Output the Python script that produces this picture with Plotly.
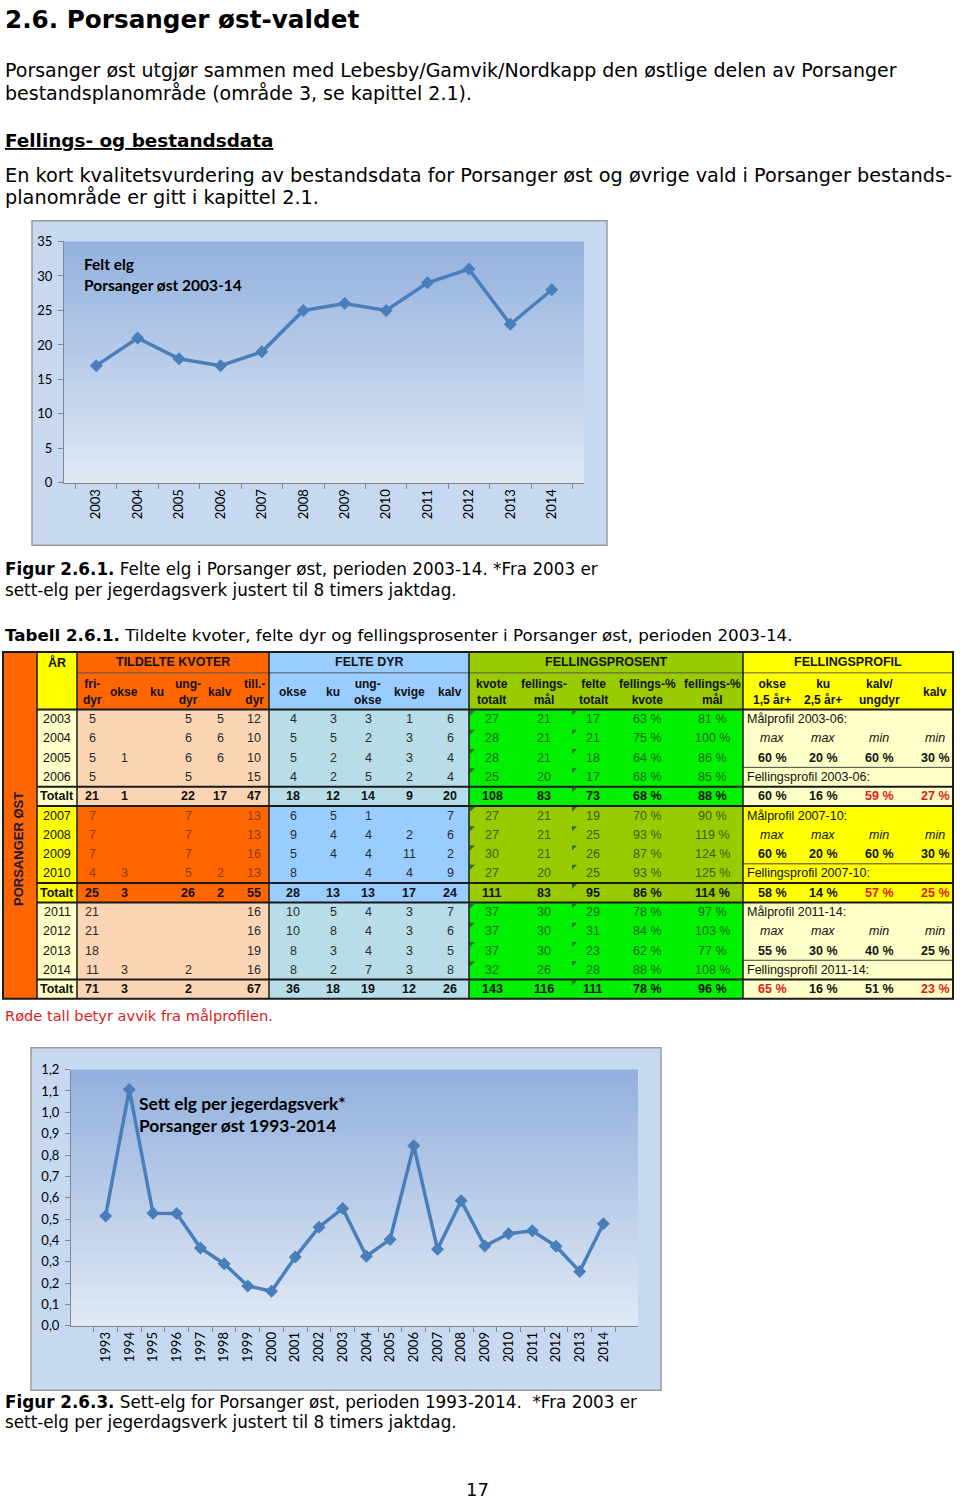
import plotly.graph_objects as go

W, H = 960, 1507

# ---- chart data ----
felt_years = ["2003", "2004", "2005", "2006", "2007", "2008", "2009", "2010", "2011", "2012", "2013", "2014"]
felt_elg = [17, 21, 18, 17, 19, 25, 26, 25, 29, 31, 23, 28]

sett_years = ["1993", "1994", "1995", "1996", "1997", "1998", "1999", "2000", "2001", "2002", "2003",
              "2004", "2005", "2006", "2007", "2008", "2009", "2010", "2011", "2012", "2013", "2014"]
sett_elg = [0.515, 1.107, 0.527, 0.526, 0.365, 0.291, 0.187, 0.162, 0.322, 0.462, 0.550,
            0.326, 0.405, 0.844, 0.359, 0.586, 0.374, 0.431, 0.445, 0.373, 0.255, 0.478]

# ---- table data ----
aar = ["2003", "2004", "2005", "2006", "Totalt", "2007", "2008", "2009", "2010", "Totalt",
       "2011", "2012", "2013", "2014", "Totalt"]
tild_fridyr = [5, 6, 5, 5, 21, 7, 7, 7, 4, 25, 21, 21, 18, 11, 71]
tild_okse = ["", "", 1, "", 1, "", "", "", 3, 3, "", "", "", 3, 3]
tild_ku = [""] * 15
tild_ungdyr = [5, 6, 6, 5, 22, 7, 7, 7, 5, 26, "", "", "", 2, 2]
tild_kalv = [5, 6, 6, "", 17, "", "", "", 2, 2, "", "", "", "", ""]
tild_tilldyr = [12, 10, 10, 15, 47, 13, 13, 16, 13, 55, 16, 16, 19, 16, 67]

felte_okse = [4, 5, 5, 4, 18, 6, 9, 5, 8, 28, 10, 10, 8, 8, 36]
felte_ku = [3, 5, 2, 2, 12, 5, 4, 4, "", 13, 5, 8, 3, 2, 18]
felte_ungokse = [3, 2, 4, 5, 14, 1, 4, 4, 4, 13, 4, 4, 4, 7, 19]
felte_kvige = [1, 3, 3, 2, 9, "", 2, 11, 4, 17, 3, 3, 3, 3, 12]
felte_kalv = [6, 6, 4, 4, 20, 7, 6, 2, 9, 24, 7, 6, 5, 8, 26]

kvote_totalt = [27, 28, 28, 25, 108, 27, 27, 30, 27, 111, 37, 37, 37, 32, 143]
fellingsmaal = [21, 21, 21, 20, 83, 21, 21, 21, 20, 83, 30, 30, 30, 26, 116]
felte_totalt = [17, 21, 18, 17, 73, 19, 25, 26, 25, 95, 29, 31, 23, 28, 111]
pct_kvote = ["63 %", "75 %", "64 %", "68 %", "68 %", "70 %", "93 %", "87 %", "93 %", "86 %",
             "78 %", "84 %", "62 %", "88 %", "78 %"]
pct_maal = ["81 %", "100 %", "86 %", "85 %", "88 %", "90 %", "119 %", "124 %", "125 %", "114 %",
            "97 %", "103 %", "77 %", "108 %", "96 %"]

profil_maal_label = ["Målprofil 2003-06:", "Målprofil 2007-10:", "Målprofil 2011-14:"]
profil_fell_label = ["Fellingsprofil 2003-06:", "Fellingsprofil 2007-10:", "Fellingsprofil 2011-14:"]
profil_grense = ["max", "max", "min", "min"]
maal_pct = [["60 %", "20 %", "60 %", "30 %"], ["60 %", "20 %", "60 %", "30 %"], ["55 %", "30 %", "40 %", "25 %"]]
fell_pct = [["60 %", "16 %", "59 %", "27 %"], ["58 %", "14 %", "57 %", "25 %"], ["65 %", "16 %", "51 %", "23 %"]]
avvik = [[False, False, True, True], [False, False, True, True], [True, False, False, True]]

BODY = "DejaVu Sans"
TAB = "Liberation Sans"
CHART = "Lato"
BLUE = "#4a7ebb"
RED = "#e01b1b"

shapes = []
annotations = []


def txt(x, y, s, size, family=BODY, color="black", anchor="left", **kw):
    annotations.append(dict(x=x, y=y, xref="x", yref="y", text=s, showarrow=False,
                            xanchor=anchor, yanchor="middle",
                            font=dict(family=family, size=size, color=color, **kw)))


def rect(x0, y0, x1, y1, fill, line=None, lw=0):
    shapes.append(dict(type="rect", xref="x", yref="y", x0=x0, y0=y0, x1=x1, y1=y1,
                       fillcolor=fill, line=dict(color=line or fill, width=lw), layer="below"))


def hline(x0, x1, y, color="#1a1a1a", w=1.5):
    shapes.append(dict(type="line", xref="x", yref="y", x0=x0, x1=x1, y0=y, y1=y,
                       line=dict(color=color, width=w), layer="below"))


def vline(x, y0, y1, color="#1a1a1a", w=1.5):
    shapes.append(dict(type="line", xref="x", yref="y", x0=x, x1=x, y0=y0, y1=y1,
                       line=dict(color=color, width=w), layer="below"))


def chart_box(x0, y0, x1, y1):
    # paper-referenced so it sits in the same lower layer as the gradients, underneath them
    shapes.append(dict(type="rect", xref="paper", yref="paper", x0=x0 / W, x1=x1 / W,
                       y0=1 - y1 / H, y1=1 - y0 / H, fillcolor="#c6d9f1",
                       line=dict(color="#9a9a9a", width=1.5), layer="below"))


def gradient(xa, ya, n=50, top=(0x93, 0xb1, 0xde), bot=(0xe0, 0xe8, 0xf4)):
    for i in range(n):
        t = i / (n - 1)
        c = tuple(round(bot[k] + (top[k] - bot[k]) * t) for k in range(3))
        shapes.append(dict(type="rect", xref=xa + " domain", yref=ya + " domain", x0=0, x1=1,
                           y0=i / n, y1=min(1, (i + 1) / n + 0.003),
                           fillcolor="rgb(%d,%d,%d)" % c, line=dict(width=0), layer="below"))


# ---- page text ----
txt(3, 12, "<b>2.6. Porsanger øst-valdet</b>", 24.7)
txt(3, 63, "Porsanger øst utgjør sammen med Lebesby/Gamvik/Nordkapp den østlige delen av Porsanger", 19)
txt(3, 86, "bestandsplanområde (område 3, se kapittel 2.1).", 19)
txt(3, 134, "<b>Fellings- og bestandsdata</b>", 18.4, lineposition="under")
txt(3, 169, "En kort kvalitetsvurdering av bestandsdata for Porsanger øst og øvrige vald i Porsanger bestands-", 19.3)
txt(3, 192, "planområde er gitt i kapittel 2.1.", 19.3)
txt(3, 567, "<b>Figur 2.6.1.</b> Felte elg i Porsanger øst, perioden 2003-14. *Fra 2003 er", 16.8)
txt(3, 588, "sett-elg per jegerdagsverk justert til 8 timers jaktdag.", 16.8)
txt(3, 634, "<b>Tabell 2.6.1.</b> Tildelte kvoter, felte dyr og fellingsprosenter i Porsanger øst, perioden 2003-14.", 16.7)
txt(3, 1018, "Røde tall betyr avvik fra målprofilen.", 14.6, color=RED)
txt(3, 1409, "<b>Figur 2.6.3.</b> Sett-elg for Porsanger øst, perioden 1993-2014.\u00a0 *Fra 2003 er", 16.8)
txt(3, 1429, "sett-elg per jegerdagsverk justert til 8 timers jaktdag.", 16.8)
txt(477, 1497, "17", 18, anchor="center")

# ---- chart frames ----
chart_box(32, 215, 607, 543)
chart_box(31, 1051, 661, 1397)
gradient("x2", "y2")
gradient("x3", "y3")
txt(82, 259, "<b>Felt elg</b>", 15.5, family=CHART)
txt(82, 280, "<b>Porsanger øst 2003-14</b>", 15.5, family=CHART)
txt(137, 1107, "<b>Sett elg per jegerdagsverk*</b>", 17.4, family=CHART)
txt(137, 1129, "<b>Porsanger øst 1993-2014</b>", 17.4, family=CHART)

# ---- table ----
gx = [3, 37, 77, 269, 469, 743, 953]          # group borders
hy = [651, 672, 709]                           # header rows
rh = 19.5
ry = [hy[2] + rh * i for i in range(16)]       # row borders
head_fill = ["#ffff00", "#ff6600", "#99ccff", "#99cc00", "#ffff00"]
light_fill = ["#ffffc8", "#fcd5b4", "#b7dee8", "#00f000", "#ffffc8"]
dark_fill = ["#ffff00", "#ff6600", "#99ccff", "#99cc00", "#ffff00"]

rect(gx[0], hy[0], gx[1], ry[15], "#ff6600")
for g in range(5):
    rect(gx[g + 1], hy[0], gx[g + 2], hy[2], head_fill[g])
    for p in range(3):
        rect(gx[g + 1], ry[p * 5], gx[g + 2], ry[p * 5 + 5], dark_fill[g] if p == 1 else light_fill[g])

# lines
hline(gx[2], gx[6], hy[1], "#555555", 1)
hline(gx[1], gx[6], hy[2], w=2)
for r in (4, 5, 9, 10, 14):
    hline(gx[1], gx[6], ry[r], w=2)
for p in range(3):
    hline(gx[5], gx[6], ry[p * 5 + 3], "#444444", 1)
for x in gx[1:-1]:
    vline(x, hy[0], ry[15])
shapes.append(dict(type="rect", xref="x", yref="y", x0=gx[0], y0=hy[0], x1=gx[6], y1=ry[15],
                   line=dict(color="#1a1a1a", width=2), layer="below"))

# excel marker triangles
for i in range(15):
    for cx, show in ((gx[4] + 1, aar[i] != "Totalt"), (572, True)):
        if show:
            y0 = ry[i] + 1
            shapes.append(dict(type="path", xref="x", yref="y",
                               path=f"M {cx},{y0} L {cx + 5},{y0} L {cx},{y0 + 5} Z",
                               fillcolor="#2e6b2e", line=dict(width=0), layer="below"))

# header text
for s, x in (("ÅR", 57), ("TILDELTE KVOTER", 173), ("FELTE DYR", 369),
             ("FELLINGSPROSENT", 606), ("FELLINGSPROFIL", 848)):
    txt(x, 661.5, "<b>%s</b>" % s, 12.5, family=TAB, color="#111111", anchor="center")

tild_x = [92, 124, 157, 188, 220, 254]
felte_x = [293, 333, 368, 409, 450]
pros_x = [492, 544, 593, 647, 712]
prof_x = [772, 823, 879, 935]
subheads = ((tild_x, ["fri-<br>dyr", "okse", "ku", "ung-<br>dyr", "kalv", "till.-<br>dyr"]),
            (felte_x, ["okse", "ku", "ung-<br>okse", "kvige", "kalv"]),
            (pros_x, ["kvote<br>totalt", "fellings-<br>mål", "felte<br>totalt", "fellings-%<br>kvote", "fellings-%<br>mål"]),
            (prof_x, ["okse<br>1,5 år+", "ku<br>2,5 år+", "kalv/<br>ungdyr", "kalv"]))
for xs, labels in subheads:
    for x, s in zip(xs, labels):
        txt(x, 691, "<b>%s</b>" % s, 12, family=TAB, color="#111111", anchor="center")

txt(19, 850, "<b>PORSANGER ØST</b>", 13, family=TAB, color="#1a1a3a", anchor="center")
annotations[-1]["textangle"] = -90

groups = ((tild_x, [tild_fridyr, tild_okse, tild_ku, tild_ungdyr, tild_kalv, tild_tilldyr]),
          (felte_x, [felte_okse, felte_ku, felte_ungokse, felte_kvige, felte_kalv]),
          (pros_x, [kvote_totalt, fellingsmaal, felte_totalt, pct_kvote, pct_maal]))
for i in range(15):
    yc = (ry[i] + ry[i + 1]) / 2
    p = i // 5
    tot = aar[i] == "Totalt"
    txt(57, yc, "<b>Totalt</b>" if tot else aar[i], 12.5, family=TAB, color="#111111", anchor="center")
    for g, (xs, cols) in enumerate(groups):
        if tot:
            col = "#111111"
        elif g == 0:
            col = "#8c3b0c" if p == 1 else "#2a2a2a"
        elif g == 1:
            col = "#2a2a2a"
        else:
            col = "#3d5a10" if p == 1 else "#1f661f"
        for x, c in zip(xs, cols):
            v = str(c[i])
            if v:
                txt(x, yc, "<b>%s</b>" % v if tot else v, 12.5, family=TAB, color=col, anchor="center")

for p in range(3):
    r0 = p * 5
    cy = [(ry[r0 + k] + ry[r0 + k + 1]) / 2 for k in range(5)]
    txt(745, cy[0], profil_maal_label[p], 12.5, family=TAB, color="#111111")
    txt(745, cy[3], profil_fell_label[p], 12.5, family=TAB, color="#111111")
    for k, x in enumerate(prof_x):
        txt(x, cy[1], "<i>%s</i>" % profil_grense[k], 12.5, family=TAB, color="#111111", anchor="center")
        txt(x, cy[2], "<b>%s</b>" % maal_pct[p][k], 12.5, family=TAB, color="#111111", anchor="center")
        txt(x, cy[4], "<b>%s</b>" % fell_pct[p][k], 12.5, family=TAB,
            color=RED if avvik[p][k] else "#111111", anchor="center")

# ---- traces ----
fig = go.Figure()
fig.add_trace(go.Scatter(x=[], y=[], xaxis="x", yaxis="y", showlegend=False, hoverinfo="skip"))
fig.add_trace(go.Scatter(x=felt_years, y=felt_elg, xaxis="x2", yaxis="y2", mode="lines+markers",
                         line=dict(color=BLUE, width=3.5),
                         marker=dict(symbol="diamond", size=10, color=BLUE), showlegend=False))
fig.add_trace(go.Scatter(x=sett_years, y=sett_elg, xaxis="x3", yaxis="y3", mode="lines+markers",
                         line=dict(color=BLUE, width=3.5),
                         marker=dict(symbol="diamond", size=10, color=BLUE), showlegend=False))

axis_common = dict(showgrid=False, zeroline=False, showline=True, linecolor="#868686", linewidth=1,
                   ticks="outside", ticklen=5, tickcolor="#868686", fixedrange=True,
                   tickfont=dict(family=CHART, size=13, color="black"))


def yd(top, bottom):
    return [1 - bottom / H, 1 - top / H]


fig.update_layout(
    width=W, height=H, margin=dict(l=0, r=0, t=0, b=0),
    paper_bgcolor="white", plot_bgcolor="rgba(0,0,0,0)",
    separators=", ", showlegend=False,
    xaxis=dict(domain=[0, 1], range=[0, W], visible=False, fixedrange=True),
    yaxis=dict(domain=[0, 1], range=[H, 0], visible=False, fixedrange=True),
    xaxis2=dict(domain=[64 / W, 584 / W], anchor="y2", type="category", tickangle=-90,
                tickson="boundaries", **axis_common),
    yaxis2=dict(domain=yd(236, 480), anchor="x2", range=[0, 35], dtick=5, ticklabelstandoff=3,
                **axis_common),
    xaxis3=dict(domain=[71 / W, 638 / W], anchor="y3", type="category", tickangle=-90,
                tickson="boundaries", **axis_common),
    yaxis3=dict(domain=yd(1073, 1332), anchor="x3", range=[0, 1.2], dtick=0.1, tickformat=".1f",
                ticklabelstandoff=3, **axis_common),
    shapes=shapes, annotations=annotations,
)

# the page is exactly the figure size, so drop the browser's default body margin
fig.write_html("out.html", config={"displayModeBar": False},
               post_script="document.body.style.margin='0';")
